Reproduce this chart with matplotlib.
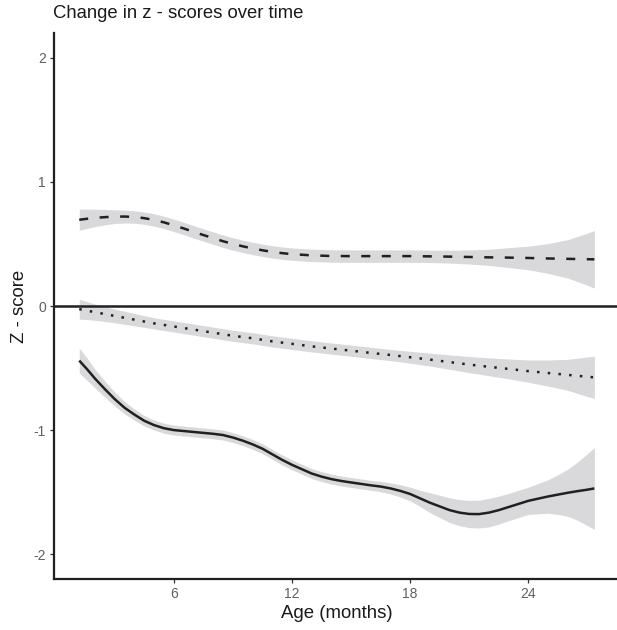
import numpy as np
import matplotlib
matplotlib.use("Agg")
import matplotlib.pyplot as plt

plt.rcParams['font.family'] = ['Liberation Sans', 'DejaVu Sans']

# upper series (dashed): age in months, smooth and half-width of band
dash_months = [1.2, 1.6, 2, 2.5, 3, 3.5, 4, 4.5, 5, 5.5, 6, 6.5, 7, 7.5, 8, 8.5,
               9, 9.5, 10, 10.5, 11, 11.5, 12, 13, 14, 15, 16, 17, 18, 19, 20,
               21, 22, 23, 24, 25, 26, 27, 27.35]
dash_fit = [0.695, 0.703, 0.71, 0.716, 0.72, 0.721, 0.717, 0.708, 0.693, 0.674,
            0.65, 0.625, 0.598, 0.572, 0.547, 0.522, 0.50, 0.481, 0.464, 0.449,
            0.436, 0.426, 0.418, 0.408, 0.403, 0.402, 0.402, 0.402, 0.402, 0.40,
            0.398, 0.395, 0.392, 0.39, 0.387, 0.383, 0.38, 0.377, 0.376]
dash_se = [0.085, 0.078, 0.07, 0.062, 0.055, 0.052, 0.05, 0.05, 0.05, 0.05,
           0.05, 0.05, 0.05, 0.05, 0.05, 0.05, 0.05, 0.05, 0.05, 0.05,
           0.05, 0.05, 0.05, 0.05, 0.05, 0.05, 0.05, 0.05, 0.05, 0.05,
           0.052, 0.057, 0.065, 0.08, 0.095, 0.12, 0.155, 0.21, 0.232]

# middle series (dotted)
dot_months = [1.2, 2, 3, 4, 5, 6, 7, 8, 9, 10, 11, 12, 13, 14, 15, 16, 17, 18,
              19, 20, 21, 22, 23, 24, 25, 26, 27, 27.35]
dot_fit = [-0.025, -0.05, -0.08, -0.11, -0.14, -0.165, -0.19, -0.215, -0.24, -0.26,
           -0.285, -0.305, -0.325, -0.343, -0.36, -0.378, -0.395, -0.413, -0.432, -0.452,
           -0.472, -0.49, -0.507, -0.525, -0.54, -0.555, -0.57, -0.575]
dot_se = [0.08, 0.065, 0.055, 0.05, 0.045, 0.045, 0.045, 0.045, 0.045, 0.045,
          0.045, 0.045, 0.045, 0.045, 0.045, 0.045, 0.045, 0.048, 0.052, 0.058,
          0.065, 0.072, 0.08, 0.09, 0.105, 0.125, 0.16, 0.17]

# lower series (solid)
solid_months = [1.2, 1.6, 2, 2.5, 3, 3.5, 4, 4.5, 5, 5.5, 6, 7, 8, 8.5, 9, 9.5,
                10, 10.5, 11, 11.5, 12, 12.5, 13, 13.5, 14, 14.5, 15, 16, 16.5, 17,
                17.5, 18, 18.5, 19, 19.5, 20, 20.5, 21, 21.5, 22, 22.5, 23, 23.5,
                24, 25, 25.5, 26, 26.5, 27, 27.35]
solid_fit = [-0.44, -0.51, -0.585, -0.67, -0.75, -0.82, -0.875, -0.925, -0.96, -0.985,
             -1.0, -1.015, -1.03, -1.04, -1.06, -1.085, -1.115, -1.15, -1.195, -1.24,
             -1.28, -1.315, -1.35, -1.375, -1.395, -1.41, -1.422, -1.445, -1.455, -1.47,
             -1.49, -1.515, -1.55, -1.585, -1.615, -1.645, -1.665, -1.676, -1.677, -1.665,
             -1.645, -1.62, -1.595, -1.57, -1.535, -1.52, -1.505, -1.492, -1.48, -1.47]
solid_se = [0.1, 0.09, 0.075, 0.065, 0.055, 0.05, 0.045, 0.042, 0.04, 0.04,
            0.04, 0.04, 0.04, 0.04, 0.04, 0.04, 0.04, 0.04, 0.04, 0.04,
            0.04, 0.04, 0.04, 0.04, 0.04, 0.04, 0.04, 0.04, 0.042, 0.045,
            0.05, 0.055, 0.065, 0.08, 0.09, 0.10, 0.105, 0.11, 0.112, 0.115,
            0.113, 0.11, 0.11, 0.11, 0.135, 0.16, 0.19, 0.235, 0.29, 0.33]

x_ticks = [6, 12, 18, 24]
y_ticks = [-2, -1, 0, 1, 2]

band_col = '#d9d9db'
line_col = '#231f20'

fig = plt.figure(figsize=(6.17, 6.30), dpi=100)
ax = fig.add_axes([53.5 / 617, 51 / 630, 566.6 / 617, 546 / 630])

series = [
    (dash_months, dash_fit, dash_se, (0, (3.6, 4.6))),
    (dot_months, dot_fit, dot_se, (0, (1.0, 3.3))),
    (solid_months, solid_fit, solid_se, '-'),
]
for m, fit, se, ls in series:
    m, fit, se = np.array(m), np.array(fit), np.array(se)
    ax.fill_between(m, fit - se, fit + se, color=band_col, lw=0, zorder=1)
for m, fit, se, ls in series:
    ax.plot(m, fit, color=line_col, lw=1.8, ls=ls, dash_capstyle='butt',
            solid_capstyle='butt', solid_joinstyle='round', zorder=3)

ax.axhline(0, color=line_col, lw=1.8, zorder=2)

lo = min(solid_months[0], dash_months[0], dot_months[0])
hi = max(solid_months[-1], dash_months[-1], dot_months[-1])
span = hi - lo
ax.set_xlim(lo - 0.05 * span, hi + 0.05 * span)
ax.set_ylim(-2.2, 2.2)
ax.set_xticks(x_ticks)
ax.set_yticks(y_ticks)
ax.set_xticklabels([str(t) for t in x_ticks])
ax.set_yticklabels([str(t) for t in y_ticks])

for s in ['top', 'right']:
    ax.spines[s].set_visible(False)
for s in ['left', 'bottom']:
    ax.spines[s].set_linewidth(1.6)
    ax.spines[s].set_color(line_col)

ax.tick_params(length=3, width=0.9, color='#333333', labelsize=10,
               labelcolor='#606060', pad=2.5)

ax.set_xlabel('Age (months)', fontsize=13.4, color='#1a1a1a', labelpad=3)
ax.set_ylabel('Z - score', fontsize=13.4, color='#1a1a1a', labelpad=4)

fig.text(53 / 617, 1 - 14 / 630, 'Change in z - scores over time', fontsize=13.3,
         color='#1a1a1a', ha='left', va='center')

fig.savefig('out.png', dpi=100)
